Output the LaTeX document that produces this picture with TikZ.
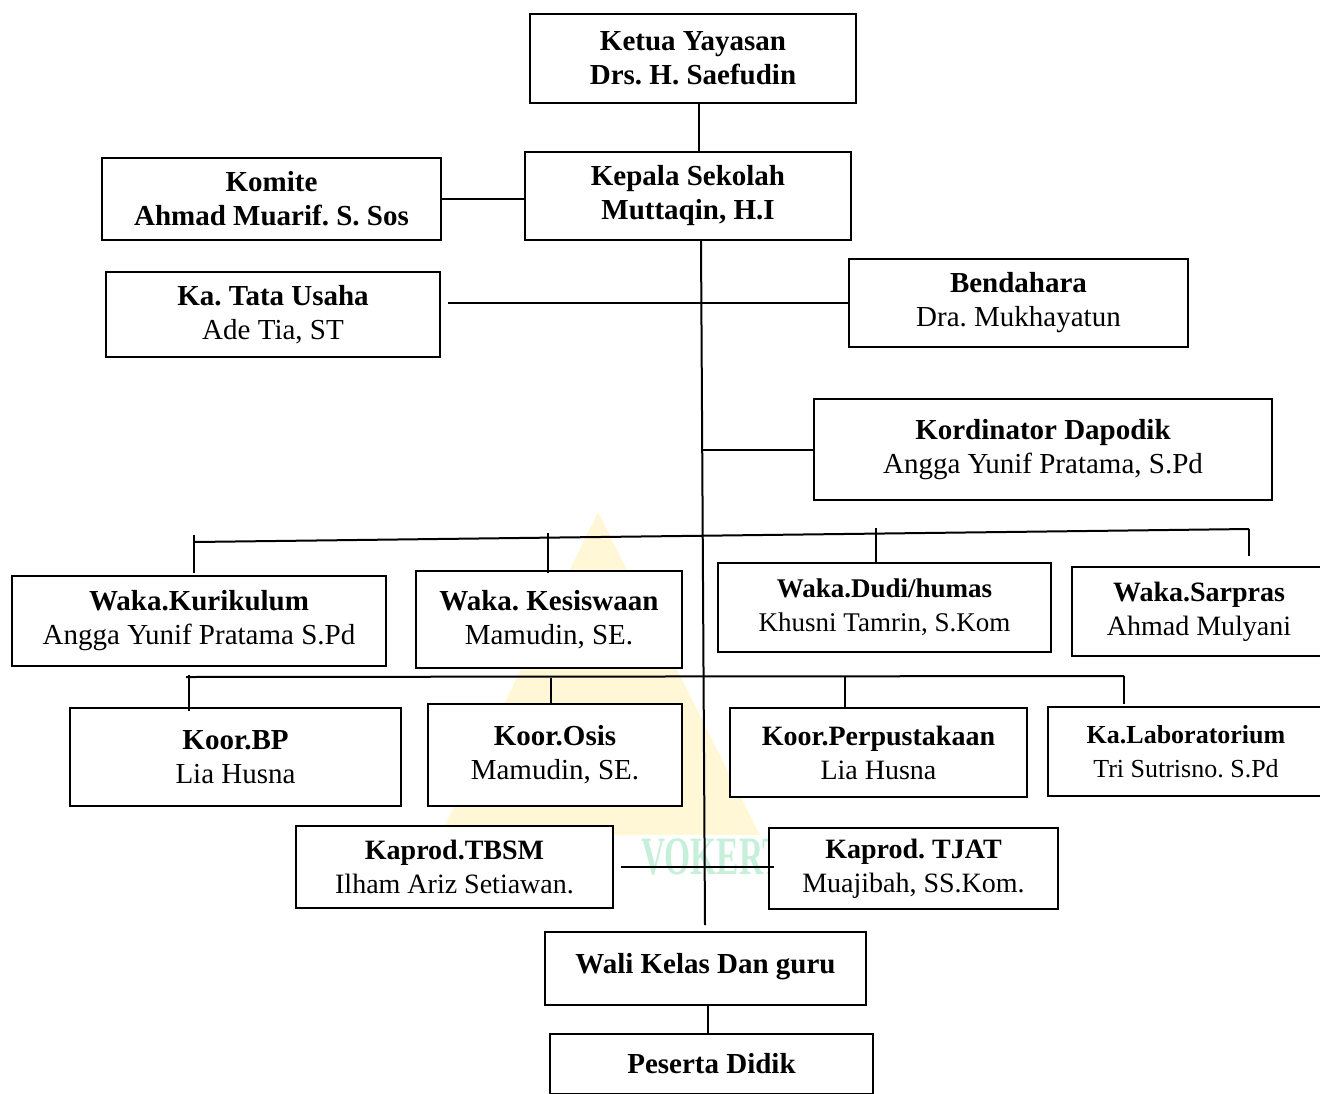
\documentclass[tikz,border=0pt]{standalone}
\usepackage{fontspec}
\setmainfont{Liberation Serif}
\usetikzlibrary{calc}
\definecolor{wmyellow}{HTML}{FFF7D6}
\definecolor{wmgreen}{HTML}{C6F0DA}
\newcommand{\fsz}[1]{\fontsize{#1}{34}\selectfont}
\frenchspacing
\tikzset{
  box/.style={draw=black, line width=1.4pt, fill=white, align=center, inner sep=0pt, font=\fsz{29}},
  link/.style={draw=black, line width=2pt},
}

\begin{document}
\begin{tikzpicture}[x=1pt, y=-1pt]
  \useasboundingbox (0,0) rectangle (1320,1093);
  % faint logo behind the chart
  \fill[wmyellow] (598,512) -- (440,835) -- (760,835) -- cycle;
  \node[text=wmgreen, font=\fsz{54}\bfseries] (wm) at (713,857) {\scalebox{0.62}[1]{VOKERT}};

  % top
  \node[box, minimum width=326pt, minimum height=89pt] (ketua) at (693,58.5) {\textbf{Ketua Yayasan}\\\textbf{Drs. H. Saefudin}};
  \node[box, minimum width=326pt, minimum height=88pt] (kepala) at (688,196) {\textbf{Kepala Sekolah}\\\textbf{Muttaqin, H.I}};
  \node[box, minimum width=339pt, minimum height=82pt] (komite) at (271.5,199) {\textbf{Komite}\\\textbf{Ahmad Muarif. S. Sos}};
  \node[box, minimum width=334pt, minimum height=85pt] (tu) at (273,314.5) {\textbf{Ka. Tata Usaha}\\Ade Tia, ST};
  \node[box, minimum width=339pt, minimum height=88pt] (bend) at (1018.5,303) {\textbf{Bendahara}\\Dra. Mukhayatun};
  \node[box, minimum width=458pt, minimum height=101pt] (dapo) at (1043,449.5) {\textbf{Kordinator Dapodik}\\Angga Yunif Pratama, S.Pd};

  % wakil kepala
  \node[box, minimum width=374pt, minimum height=90pt] (kuri) at (199,621) {\textbf{Waka.Kurikulum}\\Angga Yunif Pratama S.Pd};
  \node[box, minimum width=266pt, minimum height=97pt] (kesis) at (549,619.5) {\textbf{Waka. Kesiswaan}\\Mamudin, SE.};
  \node[box, minimum width=333pt, minimum height=89pt, font=\fsz{27}] (dudi) at (884.5,607.5) {\textbf{Waka.Dudi/humas}\\Khusni Tamrin, S.Kom};
  \node[box, minimum width=254pt, minimum height=89pt, font=\fsz{28}] (sarp) at (1199,611.5) {\textbf{Waka.Sarpras}\\Ahmad Mulyani};

  % koordinator
  \node[box, minimum width=331pt, minimum height=98pt] (bp) at (235.5,757) {\textbf{Koor.BP}\\Lia Husna};
  \node[box, minimum width=254pt, minimum height=102pt] (osis) at (555,755) {\textbf{Koor.Osis}\\Mamudin, SE.};
  \node[box, minimum width=297pt, minimum height=89pt, font=\fsz{28}] (perp) at (878.5,752.5) {\textbf{Koor.Perpustakaan}\\Lia Husna};
  \node[box, minimum width=276pt, minimum height=89pt, font=\fsz{26}] (lab) at (1186,751.5) {\textbf{Ka.Laboratorium}\\Tri Sutrisno. S.Pd};

  % kaprodi, wali, siswa
  \node[box, minimum width=317pt, minimum height=82pt, font=\fsz{28}] (tbsm) at (454.5,867) {\textbf{Kaprod.TBSM}\\Ilham Ariz Setiawan.};
  \node[box, minimum width=289pt, minimum height=81pt, font=\fsz{28}] (tjat) at (913.5,868.5) {\textbf{Kaprod. TJAT}\\Muajibah, SS.Kom.};
  \node[box, minimum width=321pt, minimum height=73pt] (wali) at (705.5,968.5) {\textbf{Wali Kelas Dan guru}\\[-24pt]};
  \node[box, minimum width=323pt, minimum height=60pt] (pes) at (711.5,1064) {\textbf{Peserta Didik}};

  % spine and buses
  \coordinate (spB) at (705,925);
  \coordinate (wbL) at (194,542);
  \coordinate (wbR) at (1249,529);
  \coordinate (kbL) at (186,677);
  \coordinate (kbR) at (1124,676);
  \draw[link] ([xshift=6pt]ketua.south) -- ([xshift=6pt]ketua.south |- kepala.north);
  \draw[link] (komite.east) -- (kepala.west |- komite.east);
  \draw[link] (kepala.south -| 701,0) -- (spB);
  \draw[link] ([xshift=7pt]tu.east |- bend.west) -- (bend.west);
  \draw[link] (dapo.west) -- (dapo.west -| 703,0);
  \draw[link] (wbL) -- (wbR);
  \draw[link] (194,535) -- (194,573);
  \draw[link] (548,533) -- (548,573);
  \draw[link] (876,528) -- (876,563);
  \draw[link] (wbR) -- (1249,556);
  \draw[link] (kbL) -- (kbR);
  \draw[link] (189,675) -- (189,711);
  \draw[link] (551,678) -- (551,704);
  \draw[link] (845,677) -- (845,709);
  \draw[link] (kbR) -- (1124,704);
  \draw[link] ([xshift=7pt]tbsm.east) -- ([xshift=6pt]tjat.west |- tbsm.east);
  \draw[link] ([xshift=2pt]wali.south) -- ([xshift=2pt]wali.south |- pes.north);
\end{tikzpicture}
\end{document}
